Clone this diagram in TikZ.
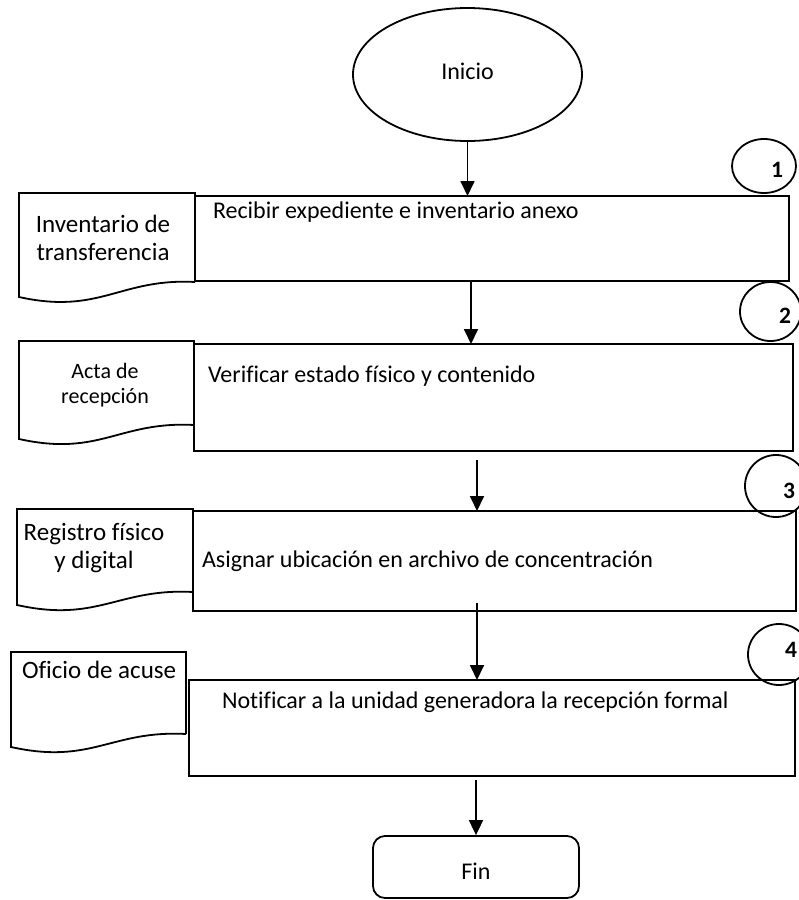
\documentclass[tikz,border=0pt]{standalone}
\usepackage{fontspec}
\setmainfont[Ligatures=NoCommon]{Carlito}
\usetikzlibrary{arrows.meta,shapes.geometric,calc}
\tikzset{
  shp/.style={draw=black, line width=1.8pt},
  boxnode/.style={shp, rectangle, inner sep=0pt, outer sep=0pt},
  numcirc/.style={shp, ellipse, inner sep=0pt, outer sep=0pt},
  txt/.style={inner sep=0pt, outer sep=0pt, font=\fontsize{24}{29}\selectfont},
  doctxt/.style={inner sep=0pt, outer sep=0pt, font=\fontsize{25}{30}\selectfont},
  smalltxt/.style={inner sep=0pt, outer sep=0pt, font=\fontsize{22}{26}\selectfont},
  numtxt/.style={inner sep=0pt, outer sep=0pt, font=\fontsize{23.5}{28}\selectfont\bfseries},
  arr/.style={line width=1.8pt, -{Triangle[width=14pt,length=15pt]}},
}
\begin{document}
\begin{tikzpicture}[x=1pt,y=-1pt]
\useasboundingbox (0,0) rectangle (799,900);
\clip (0,0) rectangle (799,900);

% Start
\node[shp, ellipse, minimum width=229pt, minimum height=133pt, inner sep=0pt] (ini) at (467.5,74.5) {};
\node[txt, anchor=base] (initxt) at (467.5,79) {Inicio};

% Process boxes
\node[boxnode, minimum width=594pt, minimum height=85pt] (b1) at (492,238.5) {};
\node[boxnode, minimum width=599pt, minimum height=107pt] (b2) at (493.5,397.5) {};
\node[boxnode, minimum width=603pt, minimum height=100pt] (b3) at (494.5,561) {};
\node[boxnode, minimum width=606pt, minimum height=96pt] (b4) at (492,728) {};

\node[txt, anchor=base west] (t1) at (213,218) {Recibir expediente e inventario anexo};
\node[txt, anchor=base west] (t2) at (208,382) {Verificar estado físico y contenido};
\node[txt, anchor=base west] (t3) at (202,567) {Asignar ubicación en archivo de concentración};
\node[txt, anchor=base west] (t4) at (222,708) {Notificar a la unidad generadora la recepción formal};

% Documents
\draw[shp] (195,282) -- (195,193) -- (19,193) -- (19,297)
  .. controls (100,315) and (120,278) .. (195,282);
\draw[shp] (194,425) -- (194,341) -- (19,341) -- (19,439)
  .. controls (100,457) and (119,421) .. (194,425);
\draw[shp] (193,592) -- (193,509) -- (17,509) -- (17,605)
  .. controls (98,623) and (118,588) .. (193,592);
\draw[shp] (186,734) -- (186,652) -- (11,652) -- (11,747)
  .. controls (92,765) and (111,730) .. (186,734);

\node[doctxt, anchor=base] (d1a) at (103,232) {Inventario de};
\node[doctxt, anchor=base] (d1b) at (103,260) {transferencia};
\node[smalltxt, anchor=base] (d2a) at (105,378) {Acta de};
\node[smalltxt, anchor=base] (d2b) at (105,403) {recepción};
\node[doctxt, anchor=base] (d3a) at (94,540) {Registro físico};
\node[doctxt, anchor=base] (d3b) at (94,568) {y digital};
\node[doctxt, anchor=base west] (d4a) at (22,678) {Oficio de acuse};

% Number circles
\node[numcirc, minimum width=64pt, minimum height=54pt] (c1) at (764,166) {};
\node[numcirc, minimum width=61pt, minimum height=59pt] (c2) at (770.5,311.5) {};
\node[numcirc, minimum width=62pt, minimum height=62pt] (c3) at (776,486) {};
\node[numcirc, minimum width=62pt, minimum height=61pt] (c4) at (779,654.5) {};
\node[numtxt, anchor=base] (n1) at (777,177) {1};
\node[numtxt, anchor=base] (n2) at (785,323) {2};
\node[numtxt, anchor=base] (n3) at (789,498) {3};
\node[numtxt, anchor=base] (n4) at (791,657) {4};

% End
\node[shp, rectangle, rounded corners=12pt, minimum width=206pt, minimum height=62pt, inner sep=0pt] (fin) at (476,867) {};
\node[txt, anchor=base] (fintxt) at (476,879) {Fin};

% Connectors
\coordinate (x2) at (471,0);
\coordinate (a3) at (477,460);
\coordinate (a4) at (477,603);
\coordinate (a5) at (476,780);
\draw[arr] (ini.south) -- (b1.north -| ini.south);
\draw[arr] (b1.south -| x2) -- (b2.north -| x2);
\draw[arr] (a3) -- (a3 |- b3.north);
\draw[arr] (a4) -- (a4 |- b4.north);
\draw[arr] (a5) -- (a5 |- fin.north);
\end{tikzpicture}
\end{document}
